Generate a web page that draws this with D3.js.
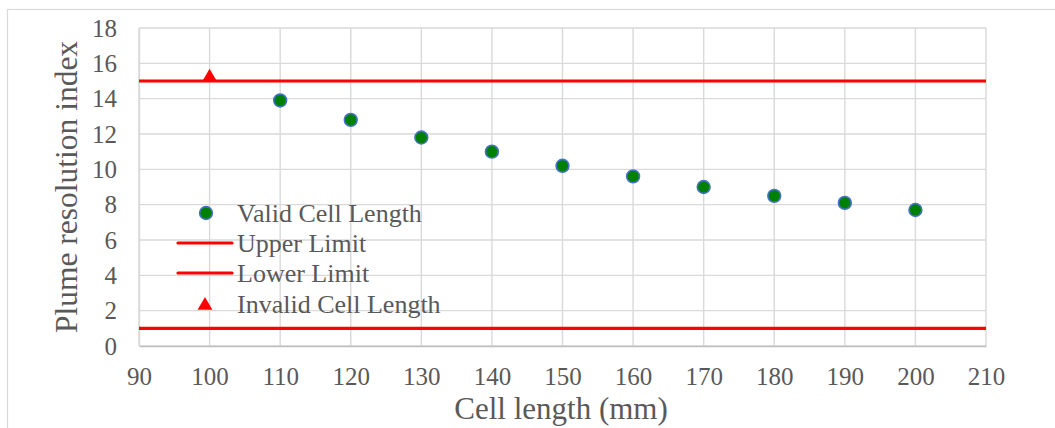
<!DOCTYPE html>
<html>
<head>
<meta charset="utf-8">
<script src="https://cdn.jsdelivr.net/npm/d3@7"></script>
<style>
  html, body { margin: 0; padding: 0; background: #fff; }
  svg { display: block; }
  text { font-family: "Liberation Serif", "Times New Roman", serif; fill: #595959; }
</style>
</head>
<body>
<svg id="chart" width="1055" height="428"></svg>
<script>
// Valid cell lengths (mm) and their plume resolution index
const validLengths = [110, 120, 130, 140, 150, 160, 170, 180, 190, 200];
const validIndex   = [13.9, 12.8, 11.8, 11.0, 10.2, 9.6, 9.0, 8.5, 8.1, 7.7];
// Cell length that falls outside the limits
const invalidLengths = [100];
const invalidIndex   = [15.3];
// Acceptable range of the index
const upperLimit = 15;
const lowerLimit = 1;
// Axis ticks
const xTicks = [90, 100, 110, 120, 130, 140, 150, 160, 170, 180, 190, 200, 210];
const yTicks = [0, 2, 4, 6, 8, 10, 12, 14, 16, 18];
const legendLabels = ["Valid Cell Length", "Upper Limit", "Lower Limit", "Invalid Cell Length"];

const FONT = "Liberation Serif, Times New Roman, serif";
const svg = d3.select("#chart");
const plot = { left: 139, right: 986, top: 28, bottom: 346 };

const x = d3.scaleLinear().domain([90, 210]).range([plot.left, plot.right]);
const y = d3.scaleLinear().domain([0, 18]).range([plot.bottom, plot.top]);

// Chart frame
svg.append("rect")
  .attr("x", 7.5).attr("y", 9.5).attr("width", 1100).attr("height", 500)
  .attr("fill", "none").attr("stroke", "#d9d9d9").attr("stroke-width", 1.2);

// Gridlines
const grid = svg.append("g").attr("stroke", "#d9d9d9").attr("stroke-width", 1.4);
grid.selectAll("line.v").data(xTicks).join("line")
  .attr("x1", d => x(d)).attr("x2", d => x(d))
  .attr("y1", plot.top).attr("y2", plot.bottom);
grid.selectAll("line.h").data(yTicks).join("line")
  .attr("x1", plot.left).attr("x2", plot.right)
  .attr("y1", d => y(d)).attr("y2", d => y(d));

// Axes (labels only; the domain line sits on the zero gridline)
const xAxis = svg.append("g")
  .attr("transform", `translate(0,${plot.bottom})`)
  .call(d3.axisBottom(x).tickValues(xTicks).tickSize(0).tickPadding(21));
xAxis.attr("font-family", FONT).attr("font-size", 25);
xAxis.select(".domain").attr("stroke", "#bfbfbf").attr("stroke-width", 1.4);
xAxis.selectAll("text").attr("fill", "#595959")
  .style("font-family", FONT).style("font-size", "25px");

const yAxis = svg.append("g")
  .attr("transform", `translate(${plot.left},0)`)
  .call(d3.axisLeft(y).tickValues(yTicks).tickSize(0).tickPadding(22));
yAxis.attr("font-family", FONT).attr("font-size", 25);
yAxis.select(".domain").attr("stroke", "#d9d9d9").attr("stroke-width", 1.4);
yAxis.selectAll("text").attr("fill", "#595959")
  .style("font-family", FONT).style("font-size", "25px");

// Limit lines
svg.selectAll("line.limit").data([upperLimit, lowerLimit]).join("line")
  .attr("class", "limit")
  .attr("x1", plot.left).attr("x2", plot.right)
  .attr("y1", d => y(d)).attr("y2", d => y(d))
  .attr("stroke", "#ff0000").attr("stroke-width", 3.2);

// Valid points
svg.selectAll("circle.valid").data(validLengths).join("circle")
  .attr("class", "valid")
  .attr("cx", d => x(d))
  .attr("cy", (d, i) => y(validIndex[i]))
  .attr("r", 6.4)
  .attr("fill", "#008000").attr("stroke", "#4472c4").attr("stroke-width", 1.6);

// Invalid point
const tri = d3.symbol().type(d3.symbolTriangle).size(95);
svg.selectAll("path.invalid").data(invalidLengths).join("path")
  .attr("class", "invalid")
  .attr("transform", (d, i) => `translate(${x(d)},${y(invalidIndex[i]) + 1.5})`)
  .attr("d", tri)
  .attr("fill", "#ff0000");

// Axis titles
svg.append("text")
  .attr("x", 561).attr("y", 419)
  .attr("text-anchor", "middle")
  .style("font-size", "31px")
  .text("Cell length (mm)");

svg.append("text")
  .attr("transform", "translate(77,187) rotate(-90)")
  .attr("text-anchor", "middle")
  .style("font-size", "31.5px")
  .text("Plume resolution index");

// Legend
const legend = svg.append("g");
const rowY = [213, 243, 273, 304];
legendLabels.forEach((label, i) => {
  const cy = rowY[i];
  if (i === 0) {
    legend.append("circle").attr("cx", 206).attr("cy", cy).attr("r", 6.4)
      .attr("fill", "#008000").attr("stroke", "#4472c4").attr("stroke-width", 1.6);
  } else if (i === 3) {
    legend.append("path").attr("transform", `translate(205,${cy + 1.5})`)
      .attr("d", tri).attr("fill", "#ff0000");
  } else {
    legend.append("line").attr("x1", 178).attr("x2", 232)
      .attr("y1", cy).attr("y2", cy)
      .attr("stroke", "#ff0000").attr("stroke-width", 3.2).attr("stroke-linecap", "round");
  }
  legend.append("text")
    .attr("x", 237).attr("y", cy + 9)
    .style("font-size", "26px")
    .text(label);
});
</script>
</body>
</html>
